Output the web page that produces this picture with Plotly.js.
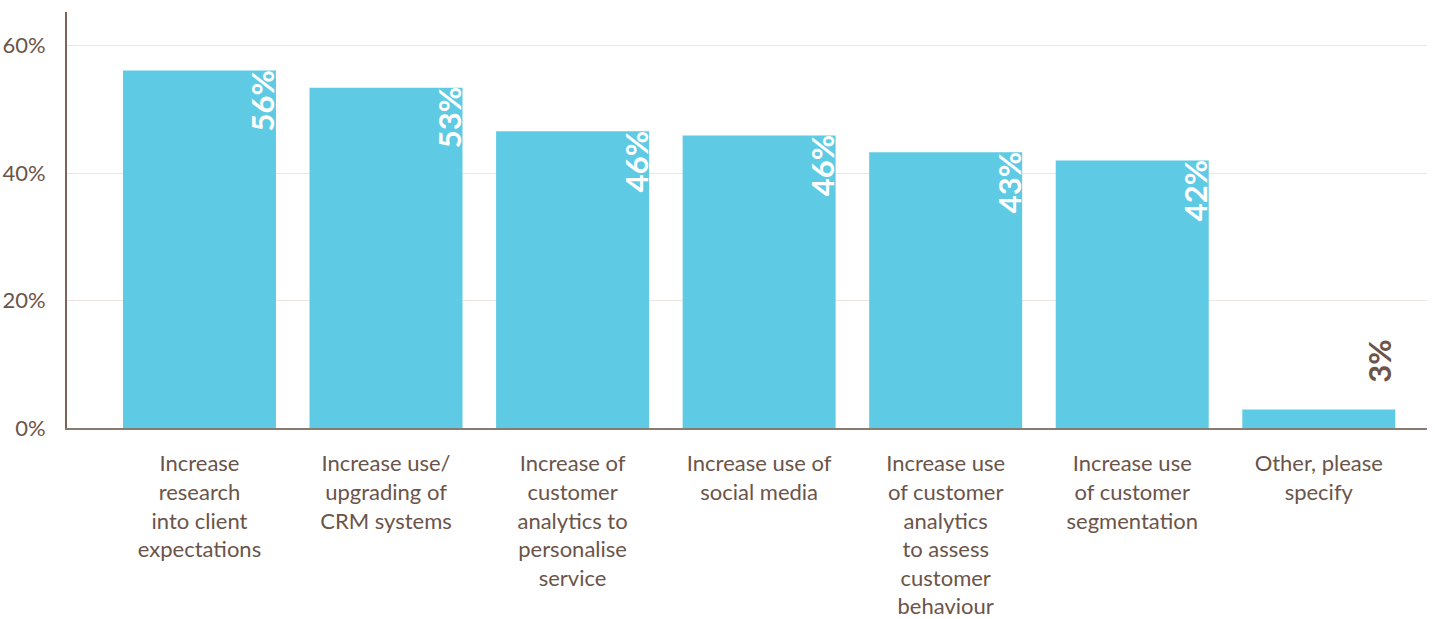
<!DOCTYPE html>
<html>
<head>
<meta charset="utf-8">
<script src="https://cdn.plot.ly/plotly-3.0.1.min.js"></script>
<style>html,body{margin:0;padding:0;background:#fff;}#chart{width:1435px;height:619px;}</style>
</head>
<body>
<div id="chart"></div>
<script>
const categories = [
  "Increase<br>research<br>into client<br>expectations",
  "Increase use/<br>upgrading of<br>CRM systems",
  "Increase of<br>customer<br>analytics to<br>personalise<br>service",
  "Increase use of<br>social media",
  "Increase use<br>of customer<br>analytics<br>to assess<br>customer<br>behaviour",
  "Increase use<br>of customer<br>segmentation",
  "Other, please<br>specify"
];
const values = [56.1, 53.4, 46.6, 45.9, 43.3, 42.0, 2.9];
const valueLabels = ["56%", "53%", "46%", "46%", "43%", "42%", "3%"];
const yTicks = [0, 20, 40, 60];
const yTickText = ["0%", "20%", "40%", "60%"];

const brown = "#6b5449";
const idx = categories.map((c, i) => i);

const trace = {
  type: "bar",
  x: idx,
  y: values,
  marker: { color: "#5ecae3" },
  hoverinfo: "skip"
};

const annotations = values.map((v, i) => {
  const inside = v > 10;
  return {
    x: i, y: v, xref: "x", yref: "y",
    text: valueLabels[i],
    showarrow: false,
    textangle: -90,
    xanchor: "right",
    yanchor: inside ? "top" : "bottom",
    xshift: inside ? 83 : 80,
    yshift: inside ? 1 : 26,
    borderpad: 0,
    font: { family: "Lato, 'Open Sans', sans-serif", size: 31, color: inside ? "#ffffff" : brown, weight: "bold" }
  };
});

const layout = {
  width: 1435, height: 619,
  margin: { l: 67, r: 8, t: 12, b: 191 },
  paper_bgcolor: "#fff", plot_bgcolor: "#fff",
  bargap: 0.18,
  showlegend: false,
  font: { family: "Lato, 'Open Sans', sans-serif", color: brown },
  xaxis: {
    type: "linear",
    range: [-0.71, 6.58],
    tickmode: "array",
    tickvals: idx,
    ticktext: categories,
    ticks: "", ticklen: 0,
    ticklabelstandoff: 15,
    showgrid: false, zeroline: false,
    showline: true, linecolor: "#8a7b72", linewidth: 2,
    tickfont: { size: 22, color: brown },
    fixedrange: true
  },
  yaxis: {
    range: [0, 65.3],
    tickmode: "array",
    tickvals: yTicks,
    ticktext: yTickText,
    ticks: "", ticklen: 0,
    ticklabelstandoff: 15,
    showgrid: true, gridcolor: "#ebe6e2", gridwidth: 1,
    zeroline: false,
    showline: true, linecolor: "#7a6558", linewidth: 2,
    tickfont: { size: 22, color: brown },
    fixedrange: true
  },
  annotations: annotations
};

Plotly.newPlot("chart", [trace], layout, { displayModeBar: false, staticPlot: true });
</script>
</body>
</html>
